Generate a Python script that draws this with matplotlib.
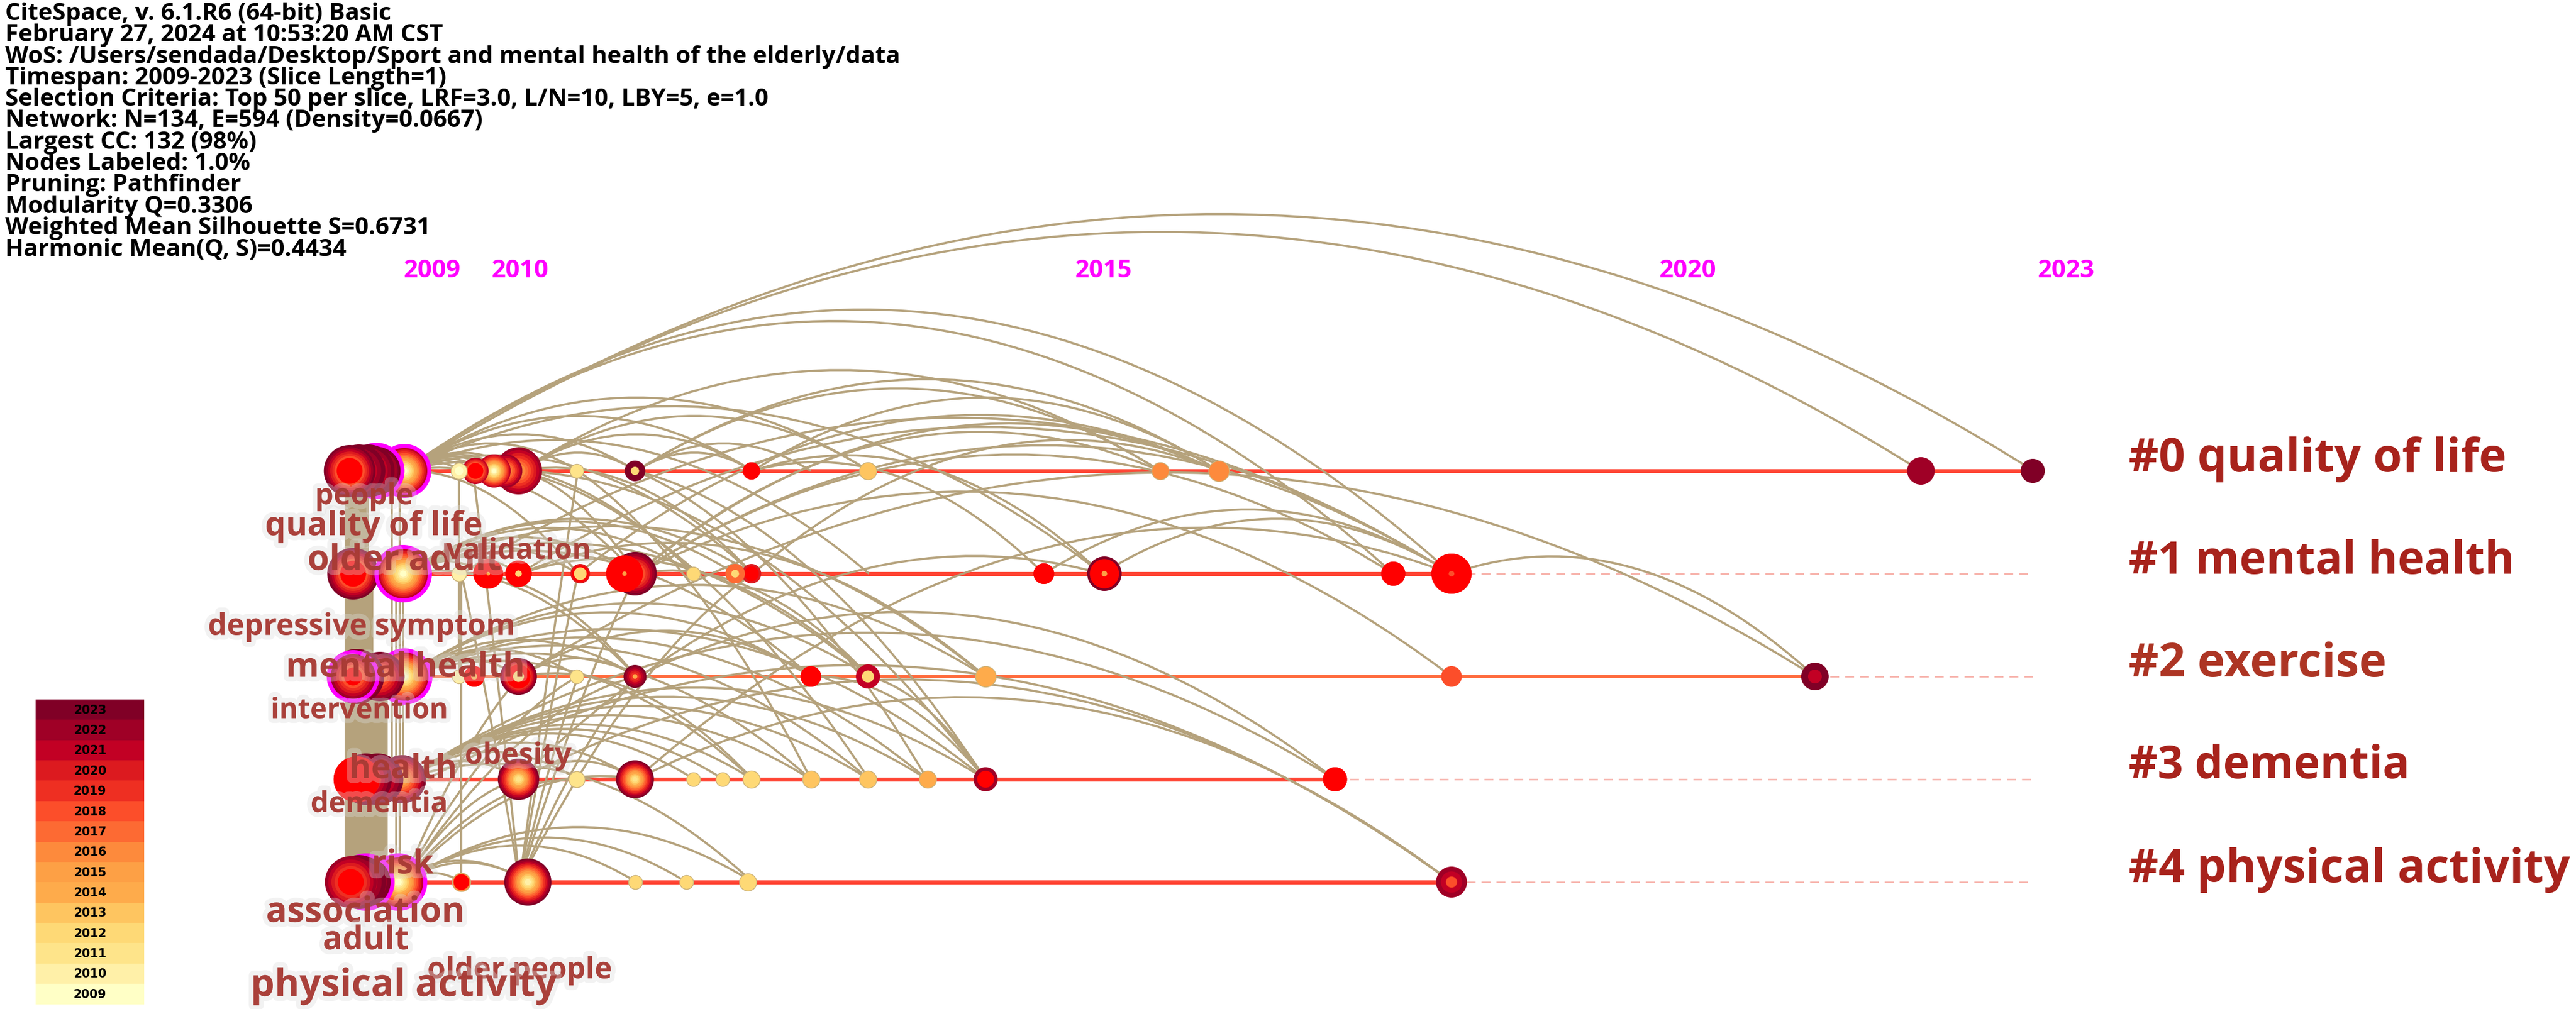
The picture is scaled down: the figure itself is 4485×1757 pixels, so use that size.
import matplotlib
matplotlib.use("Agg")
import matplotlib.pyplot as plt
import matplotlib.patheffects as pe
from matplotlib.path import Path
from matplotlib.patches import PathPatch
from matplotlib.transforms import Affine2D

W, H = 4485, 1758
DPI = 100
plt.rcParams['font.family'] = ['Open Sans', 'DejaVu Sans']

HEADER = ["CiteSpace, v. 6.1.R6 (64-bit) Basic",
          "February 27, 2024 at 10:53:20 AM CST",
          "WoS: /Users/sendada/Desktop/Sport and mental health of the elderly/data",
          "Timespan: 2009-2023 (Slice Length=1)",
          "Selection Criteria: Top 50 per slice, LRF=3.0, L/N=10, LBY=5, e=1.0",
          "Network: N=134, E=594 (Density=0.0667)",
          "Largest CC: 132 (98%)",
          "Nodes Labeled: 1.0%",
          "Pruning: Pathfinder",
          "Modularity Q=0.3306",
          "Weighted Mean Silhouette S=0.6731",
          "Harmonic Mean(Q, S)=0.4434"]

YEARS = [2009, 2010, 2011, 2012, 2013, 2014, 2015, 2016, 2017, 2018, 2019, 2020, 2021, 2022, 2023]
YEAR_COLORS = ['#ffffc6', '#fff0a8', '#fee48a', '#fed976', '#fec560', '#feab4b', '#fda045', '#fd8a3c',
               '#fd6a33', '#fc4e2a', '#ee2f22', '#dc1a1f', '#c20024', '#9f0026', '#800026']
TICK_YEARS = [2009, 2010, 2015, 2020, 2023]
CLUSTERS = ['#0 quality of life', '#1 mental health', '#2 exercise', '#3 dementia', '#4 physical activity']
CLUSTER_COLORS = ['#a8231c', '#a8231c', '#ad3524', '#a8231c', '#a8231c']
ROW_END = [2022.99, 2018.0, 2021.12, 2017.0, 2018.0]
ROW_COLORS = ['#ff4433', '#ff4433', '#ff6b3d', '#ff4433', '#ff4433']

# year position, radius, outer ring year, inner ring year, red burst share, core year, core share, hub flag
ROW0 = [(2009.01, 47, 2021, 2009, 0, None, 0, 1), (2008.77, 49, 2023, 2016, 0, None, 0, 1),
        (2008.70, 46, 2023, 2017, 0, None, 0, 0), (2008.62, 46, 2023, 2018, 0, None, 0, 0),
        (2008.54, 45, 2023, 2018, .5, None, 0, 0),
        (2009.99, 41, 2022, 2015, 0, None, 0, 0), (2009.88, 29, 2022, 2014, 0, None, 0, 0),
        (2009.78, 29, 2021, 2009, 0, None, 0, 0), (2009.62, 23, 2021, 2018, .6, None, 0, 0),
        (2009.48, 14, 2010, 2009, 0, None, 0, 0),
        (2010.49, 12, 2011, 2011, 0, None, 0, 0), (2010.99, 18, 2023, 2023, 0, 2012, .4, 0),
        (2011.99, 15, 2020, 2020, 1, None, 0, 0), (2012.99, 15, 2013, 2013, 0, None, 0, 0),
        (2015.5, 15, 2016, 2016, 0, None, 0, 0), (2016.0, 18, 2016, 2016, 0, None, 0, 0),
        (2022.03, 24, 2022, 2022, 0, None, 0, 0), (2022.99, 21, 2023, 2023, 0, None, 0, 0)]
ROW1 = [(2008.57, 45, 2023, 2018, .5, None, 0, 0), (2009.0, 50, 2021, 2009, 0, None, 0, 1),
        (2009.48, 13, 2010, 2010, 0, None, 0, 0), (2009.73, 26, 2020, 2020, 1, 2014, .12, 0),
        (2009.99, 23, 2020, 2020, 1, 2012, .25, 0), (2010.52, 17, 2020, 2020, .85, 2012, .65, 0),
        (2010.99, 38, 2023, 2015, 0, None, 0, 0), (2010.9, 32, 2020, 2020, 1, 2015, .12, 0),
        (2011.49, 12, 2012, 2012, 0, None, 0, 0), (2011.99, 17, 2020, 2020, .75, None, 0, 0),
        (2011.85, 17, 2017, 2017, 0, 2012, .4, 0), (2014.5, 18, 2020, 2020, 1, None, 0, 0),
        (2015.02, 30, 2023, 2023, .85, 2015, .16, 0), (2017.5, 21, 2020, 2020, 1, None, 0, 0),
        (2018.0, 35, 2020, 2020, 1, 2018, .14, 0)]
ROW2 = [(2009.01, 49, 2021, 2009, 0, None, 0, 1), (2008.80, 43, 2023, 2016, 0, None, 0, 0),
        (2008.60, 48, 2023, 2018, .4, None, 0, 0), (2008.57, 46, 2022, 2018, .4, None, 0, 1),
        (2009.48, 12, 2010, 2010, 0, None, 0, 0), (2009.61, 18, 2020, 2020, 1, 2014, .3, 0),
        (2009.99, 32, 2023, 2019, .65, 2012, .3, 0), (2010.49, 12, 2011, 2011, 0, None, 0, 0),
        (2010.99, 20, 2023, 2018, 0, 2014, .2, 0), (2012.5, 18, 2020, 2020, 1, None, 0, 0),
        (2012.99, 21, 2021, 2021, 0, 2012, .5, 0), (2014.0, 18, 2014, 2014, 0, None, 0, 0),
        (2018.0, 18, 2018, 2018, 0, None, 0, 0), (2021.12, 24, 2023, 2023, 0, 2021, .5, 0)]
ROW3 = [(2008.99, 42, 2023, 2014, 0, None, 0, 0), (2008.78, 45, 2023, 2018, 0, None, 0, 0),
        (2008.68, 45, 2023, 2017, 0, None, 0, 0), (2008.60, 40, 2020, 2020, 1, None, 0, 0),
        (2009.99, 36, 2023, 2011, 0, None, 0, 0), (2010.49, 14, 2011, 2011, 0, None, 0, 0),
        (2010.99, 33, 2023, 2011, 0, None, 0, 0), (2011.49, 12, 2012, 2012, 0, None, 0, 0),
        (2011.74, 12, 2012, 2012, 0, None, 0, 0), (2011.99, 15, 2012, 2012, 0, None, 0, 0),
        (2012.5, 15, 2013, 2013, 0, None, 0, 0), (2012.99, 15, 2013, 2013, 0, None, 0, 0),
        (2013.5, 15, 2014, 2014, 0, None, 0, 0), (2014.0, 21, 2022, 2022, .7, None, 0, 0),
        (2017.0, 21, 2020, 2020, 1, None, 0, 0)]
ROW4 = [(2008.96, 50, 2021, 2009, 0, None, 0, 1), (2008.68, 50, 2023, 2018, 0, None, 0, 1),
        (2008.62, 47, 2023, 2018, 0, None, 0, 0), (2008.55, 45, 2022, 2019, .5, None, 0, 0),
        (2009.5, 16, 2016, 2016, .85, None, 0, 0), (2010.07, 41, 2023, 2010, 0, None, 0, 0),
        (2010.99, 12, 2012, 2012, 0, None, 0, 0), (2011.43, 12, 2012, 2012, 0, None, 0, 0),
        (2011.96, 15, 2012, 2012, 0, None, 0, 0), (2018.0, 27, 2022, 2020, 0, 2018, .35, 0)]
ROWS = [ROW0, ROW1, ROW2, ROW3, ROW4]

# source year, source row, target year, target row
TALL_ARCS = [(2009, 0, 2018, 1), (2009, 0, 2017.5, 1)]
ARCS = [(2009, 0, 2023, 0), (2009, 0, 2022.03, 0),
        (2010, 0, 2015.5, 0), (2009, 0, 2015, 1), (2011, 1, 2016, 0), (2011, 1, 2015.5, 0),
        (2010.5, 1, 2016, 0), (2010, 1, 2018, 1), (2009.5, 1, 2018, 1), (2011, 1, 2018, 1),
        (2011, 1, 2017.5, 1), (2012, 0, 2015, 1), (2012, 0, 2014.5, 1), (2015, 1, 2018, 1),
        (2014.5, 1, 2018, 1), (2018, 1, 2021.12, 2), (2010, 2, 2021.12, 2), (2011, 2, 2017, 3),
        (2011, 1, 2018, 2), (2011, 3, 2018, 4), (2010, 3, 2018, 4), (2013, 2, 2014, 3),
        (2012.5, 2, 2014, 3), (2010, 0, 2014, 3), (2011, 0, 2014, 3), (2009, 4, 2012, 4),
        (2009, 4, 2011.43, 4), (2009, 4, 2011, 4), (2009, 4, 2010.07, 4), (2009, 4, 2009.5, 4),
        (2008.9, 4, 2010.07, 4), (2009, 0, 2013, 0), (2009, 0, 2012, 0), (2009, 0, 2011, 0),
        (2009, 0, 2011.5, 1), (2009, 0, 2011, 1), (2009, 0, 2010.5, 0), (2009, 0, 2013, 1),
        (2009, 0, 2012, 1), (2009, 0, 2010.5, 1), (2009, 0, 2009.5, 0), (2009, 0, 2009.6, 0),
        (2009, 0, 2009.7, 0), (2009, 0, 2009.8, 0), (2009, 0, 2009.9, 0), (2009, 0, 2010, 0),
        (2010, 0, 2012, 0), (2010, 0, 2013, 0), (2010, 0, 2011, 0), (2010, 0, 2011, 1),
        (2010, 0, 2012, 1), (2011, 0, 2012, 0), (2011, 0, 2012.5, 0), (2011, 0, 2015.5, 0),
        (2011, 0, 2016, 0), (2012, 0, 2016, 0), (2012, 1, 2016, 0),
        (2009, 1, 2012, 1), (2009, 1, 2011, 1), (2009, 1, 2011.5, 1), (2009, 1, 2012.5, 2),
        (2009, 1, 2013, 2), (2009, 1, 2010, 1), (2009, 1, 2009.7, 1), (2009, 1, 2014, 2),
        (2009, 1, 2010.5, 1), (2009, 1, 2011.85, 1), (2009, 1, 2011, 2), (2009.5, 1, 2011, 2),
        (2009, 2, 2013, 2), (2009, 2, 2012.5, 2), (2009, 2, 2014, 2), (2009, 2, 2011, 2),
        (2009, 2, 2010.5, 2), (2009, 2, 2010, 2), (2009, 2, 2012, 3), (2009, 2, 2014, 3),
        (2009, 2, 2013.5, 3), (2009, 2, 2013, 3), (2009, 2, 2012.5, 3), (2010, 2, 2011, 2),
        (2009, 3, 2011.5, 3), (2009, 3, 2011.75, 3), (2009, 3, 2012, 3), (2009, 3, 2012.5, 3),
        (2009, 3, 2013, 3), (2009, 3, 2013.5, 3), (2009, 3, 2014, 3), (2009, 3, 2011, 3),
        (2009, 3, 2010.5, 3), (2009, 3, 2010, 3), (2010, 3, 2011, 3),
        (2009, 3, 2012, 4), (2009.2, 3, 2018, 4), (2009, 3, 2017, 3),
        (2010, 2, 2012.5, 2), (2010, 1, 2014, 2), (2010, 1, 2013, 2),
        (2011, 1, 2013, 2), (2011, 0, 2013.5, 3),
        (2010, 0, 2013, 3), (2010.5, 0, 2012.5, 3),
        (2010, 2, 2012, 3), (2011, 3, 2018, 1), (2010, 3, 2015, 1),
        (2010, 4, 2012, 1), (2010, 4, 2009.5, 1), (2010, 4, 2010.5, 1), (2010, 4, 2010.5, 2),
        (2010, 4, 2009.6, 0), (2010, 4, 2011, 1), (2010, 4, 2010.5, 0), (2010, 4, 2011, 2),
        (2009, 4, 2011, 2), (2009, 4, 2010, 3),
        (2009, 4, 2010, 2), (2009, 4, 2011, 3), (2009, 4, 2010.5, 3), (2009, 4, 2010.5, 2)]
BUNDLE = [(2008.52, 0, 4), (2008.56, 0, 4), (2008.60, 0, 4), (2008.64, 0, 4), (2008.68, 0, 4),
          (2008.72, 1, 4), (2008.76, 2, 4), (2008.80, 2, 4), (2008.84, 2, 4)]
THIN_BUNDLE = [(2008.97, 0, 4), (2008.94, 1, 4), (2008.90, 0, 3), (2009.5, 1, 4), (2009.0, 1, 3),
               (2009.48, 0, 2)]

LABELS = ['people', 'quality of life', 'older adult', 'validation', 'depressive symptom', 'mental health',
          'intervention', 'health', 'obesity', 'dementia', 'risk', 'association', 'adult', 'older people',
          'physical activity']

# ---------- layout ----------
LABEL_X = [634, 651, 704, 903, 630, 706, 626, 702, 902, 660, 701, 636, 637, 905, 703]
LABEL_Y = [866, 918, 978, 961, 1093, 1164, 1239, 1341, 1318, 1402, 1507, 1591, 1639, 1691, 1718]
LABEL_W = [171, 379, 338, 252, 535, 416, 309, 188, 186, 239, 108, 346, 150, 322, 533]
CLUSTER_Y = [800, 979, 1157, 1335, 1515]
CLUSTER_W = [658, 672, 450, 490, 769]
TICK_X = [752, 905, 1921, 2938, 3597]
X0, XS, Y0, YS = 702.0, 202.8, 821.0, 179.0
ARC_K = 0.315 * XS / YS
TALL_K = 0.40 * XS / YS

fig = plt.figure(figsize=(W / DPI, H / DPI), dpi=DPI, facecolor='white')
ax = fig.add_axes([0, 0, 1, 1])
ax.set_xlim(2009 - X0 / XS, 2009 + (W - X0) / XS)
ax.set_ylim((H - Y0) / YS, -Y0 / YS)
ax.axis('off')
pix = Affine2D().scale(1, -1).translate(0, H)
renderer = fig.canvas.get_renderer()
COL = dict(zip(YEARS, YEAR_COLORS))
PX = 0.72
TAN = '#b5a27c'


def fit(t, width):
    w = t.get_window_extent(renderer).width
    t.set_fontsize(t.get_fontsize() * width / w)


# header
probe = fig.text(0, 0, HEADER[2], fontsize=24, fontweight='bold')
fit(probe, 1562)
head_fs = probe.get_fontsize()
probe.remove()
for i, line in enumerate(HEADER):
    ax.text(9, 35 + 37.3 * i, line, transform=pix, fontsize=head_fs, fontweight='bold', color='black',
            va='baseline', ha='left', zorder=20)

# year ticks
for yr, x in zip(TICK_YEARS, TICK_X):
    t = ax.text(x, 472, str(yr), transform=pix, fontsize=26, fontweight='bold', color='#ff00ff',
                ha='center', va='center', zorder=20)
    fit(t, 99)

# timelines
for r, (end, c) in enumerate(zip(ROW_END, ROW_COLORS)):
    ax.plot([2009.05, end], [r, r], color=c, lw=(5.5 if r == 2 else 7) * PX, solid_capstyle='butt', zorder=1)
    if end < 2022.9:
        ax.plot([end, 2022.99], [r, r], color='#f7b0a8', lw=2.6 * PX, dashes=(6, 4), zorder=1)


# arcs
def arc(x0, r0, x1, r1, k):
    cy = (r0 + r1) / 2 - k * abs(x1 - x0)
    p = Path([(x0, r0), ((x0 + x1) / 2, cy), (x1, r1)], [Path.MOVETO, Path.CURVE3, Path.CURVE3])
    ax.add_patch(PathPatch(p, fc='none', ec=TAN, lw=3.8 * PX, zorder=2))


for e in ARCS:
    arc(*e, ARC_K)
for e in TALL_ARCS:
    arc(*e, TALL_K)
for x, r0, r1 in BUNDLE:
    ax.plot([x, x], [r0, r1], color=TAN, lw=10 * PX, zorder=2)
for x, r0, r1 in THIN_BUNDLE:
    ax.plot([x, x], [r0, r1], color=TAN, lw=3.8 * PX, zorder=2)


def disc(x, r, radius, color, z, edge='none'):
    d = 2 * radius * PX
    ax.scatter([x], [r], s=d * d, c=[color], edgecolors=edge, linewidths=1.0, zorder=z)


# nodes
z = 3.0
for r, row in enumerate(ROWS):
    for yr, size, outer, inner, red, core, core_share, hub in row:
        z += 0.01
        if hub:
            disc(yr, r, size, '#ff00ff', z)
            size -= 7
        bottom = red if red else (0.06 if outer != inner else 0.0)
        ring_years = list(range(outer, inner - 1, -1))
        for i, ry in enumerate(ring_years):
            frac = 1 - (1 - bottom) * i / len(ring_years)
            edge = '#cbb27a' if (i == 0 and outer < 2017) else 'none'
            disc(yr, r, size * frac, COL[ry], z, edge)
        if red:
            disc(yr, r, size * red, '#ff0000', z)
        if core:
            disc(yr, r, size * core_share, COL[core], z)

# node labels
halo = [pe.withStroke(linewidth=12, foreground='#dcdcdc', alpha=0.35)]
for s, x, y, w in zip(LABELS, LABEL_X, LABEL_Y, LABEL_W):
    t = ax.text(x, y, s, transform=pix, fontsize=30, fontweight='bold', color='#a83a34', alpha=0.95,
                ha='center', va='center', zorder=10, path_effects=halo)
    fit(t, w)

# cluster labels
for s, y, w, c in zip(CLUSTERS, CLUSTER_Y, CLUSTER_W, CLUSTER_COLORS):
    t = ax.text(3706, y, s, transform=pix, fontsize=50, fontweight='bold', color=c,
                ha='left', va='center', zorder=10)
    fit(t, w)

# legend
leg = fig.add_axes([62 / W, 1 - 1749.5 / H, (251 - 62) / W, (1749.5 - 1219) / H])
leg.barh(range(len(YEARS)), [1] * len(YEARS), height=1.0, color=YEAR_COLORS, linewidth=0)
leg.set_xlim(0, 1)
leg.set_ylim(-0.5, len(YEARS) - 0.5)
leg.axis('off')
for i, yr in enumerate(YEARS):
    t = leg.text(0.5, i, str(yr), ha='center', va='center', fontsize=13, fontweight='bold', color='black',
                 family='DejaVu Sans')
    fit(t, 57)

fig.savefig('out.png', dpi=DPI, facecolor='white')
